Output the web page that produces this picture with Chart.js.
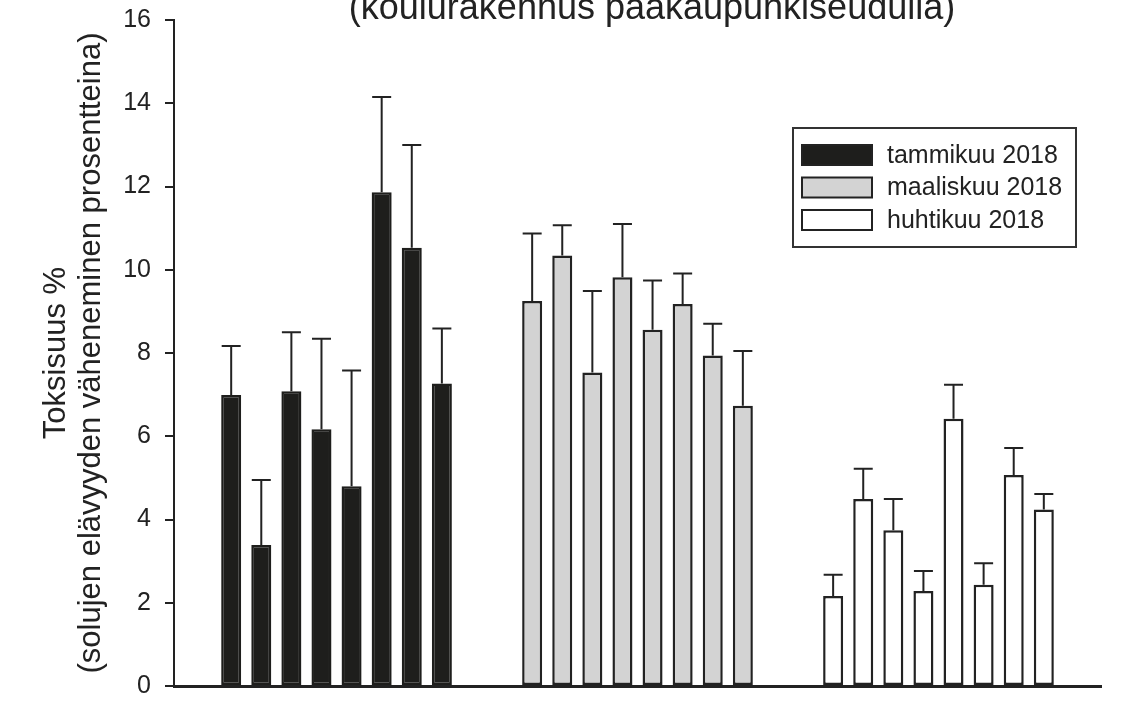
<!DOCTYPE html>
<html>
<head>
<meta charset="utf-8">
<script src="https://cdn.jsdelivr.net/npm/chart.js@4"></script>
<style>
    html, body { margin: 0; padding: 0; background: #fff; }
    #wrap { width: 1121px; height: 728px; }
</style>
</head>
<body>
<div id="wrap"><canvas id="toxChart"></canvas></div>
<script>
// values (mean and upward error)
const sampleNo = [1, 2, 3, 4, 5, 6, 7, 8];
const seriesNames = ['tammikuu 2018', 'maaliskuu 2018', 'huhtikuu 2018'];
const tammikuu = [6.99, 3.39, 7.08, 6.17, 4.80, 11.86, 10.53, 7.27];
const tammikuuErr = [1.18, 1.56, 1.42, 2.17, 2.78, 2.29, 2.47, 1.32];
const maaliskuu = [9.25, 10.34, 7.53, 9.82, 8.56, 9.18, 7.94, 6.73];
const maaliskuuErr = [1.62, 0.73, 1.96, 1.28, 1.18, 0.73, 0.76, 1.32];
const huhtikuu = [2.16, 4.49, 3.74, 2.28, 6.42, 2.43, 5.07, 4.24];
const huhtikuuErr = [0.51, 0.73, 0.75, 0.48, 0.82, 0.52, 0.65, 0.37];
const yTicks = [0, 2, 4, 6, 8, 10, 12, 14, 16];

const titleText = '(koulurakennus pääkaupunkiseudulla)';
const yTitle = ['Toksisuus %', '(solujen elävyyden väheneminen prosentteina)'];

const FONT = '"Liberation Sans", Arial, sans-serif';
const INK = '#222222';

// each month is a block of 8 bars, blocks 10 positions apart
function toPoints(values, block) {
    return values.map((v, i) => ({ x: block * 10 + sampleNo[i] - 1, y: v }));
}

const allErrors = [tammikuuErr, maaliskuuErr, huhtikuuErr];

const errorBars = {
    id: 'errorBars',
    afterDatasetsDraw(chart) {
        const ctx = chart.ctx;
        const xs = chart.scales.x, ys = chart.scales.y;
        ctx.save();
        ctx.strokeStyle = INK;
        ctx.lineWidth = 2;
        chart.data.datasets.forEach((ds, d) => {
            ds.data.forEach((p, i) => {
                const x = xs.getPixelForValue(p.x);
                const y0 = ys.getPixelForValue(p.y);
                const y1 = ys.getPixelForValue(p.y + allErrors[d][i]);
                ctx.beginPath();
                ctx.moveTo(x, y0);
                ctx.lineTo(x, y1);
                ctx.moveTo(x - 9.5, y1);
                ctx.lineTo(x + 9.5, y1);
                ctx.stroke();
            });
        });
        ctx.restore();
    }
};

const boxLegend = {
    id: 'boxLegend',
    afterDraw(chart) {
        const ctx = chart.ctx;
        ctx.save();
        ctx.strokeStyle = '#333';
        ctx.lineWidth = 2;
        ctx.strokeRect(793, 128, 283, 119);
        ctx.font = '25px ' + FONT;
        ctx.textBaseline = 'middle';
        ctx.textAlign = 'left';
        chart.data.datasets.forEach((ds, i) => {
            const cy = 155 + i * 32.5;
            ctx.fillStyle = ds.backgroundColor;
            ctx.fillRect(802, cy - 10, 70, 20);
            ctx.lineWidth = 2;
            ctx.strokeStyle = INK;
            ctx.strokeRect(802, cy - 10, 70, 20);
            ctx.fillStyle = INK;
            ctx.fillText(ds.label, 887, cy + 1);
        });
        ctx.restore();
    }
};

const topTitle = {
    id: 'topTitle',
    afterDraw(chart) {
        const ctx = chart.ctx;
        ctx.save();
        ctx.font = '36px ' + FONT;
        ctx.fillStyle = INK;
        ctx.textAlign = 'center';
        ctx.textBaseline = 'alphabetic';
        ctx.fillText(titleText, 652, 19);
        ctx.restore();
    }
};

const barStyle = { borderColor: INK, borderWidth: 2.5, borderSkipped: false, grouped: false,
                   barPercentage: 0.665, categoryPercentage: 1 };

new Chart(document.getElementById('toxChart'), {
    type: 'bar',
    data: {
        datasets: [
            Object.assign({ label: seriesNames[0], data: toPoints(tammikuu, 0), backgroundColor: '#1e1e1c' }, barStyle, { borderColor: '#1e1e1c' }),
            Object.assign({ label: seriesNames[1], data: toPoints(maaliskuu, 1), backgroundColor: '#d3d3d3' }, barStyle),
            Object.assign({ label: seriesNames[2], data: toPoints(huhtikuu, 2), backgroundColor: '#ffffff' }, barStyle)
        ]
    },
    options: {
        responsive: true,
        maintainAspectRatio: false,
        animation: false,
        layout: { padding: { top: 20, right: 20, bottom: 42, left: 0 } },
        plugins: {
            legend: { display: false },
            tooltip: { enabled: false }
        },
        scales: {
            x: {
                type: 'linear',
                min: -1.9,
                max: 28.9,
                offset: false,
                ticks: { display: false },
                grid: { display: false },
                border: { display: true, color: INK, width: 3 },
                afterFit: s => { s.height = 0; }
            },
            y: {
                min: 0,
                max: 16,
                afterBuildTicks: s => { s.ticks = yTicks.map(v => ({ value: v })); },
                afterFit: s => { s.width = 174; s.paddingTop = 0; s.paddingBottom = 0; },
                ticks: { color: INK, padding: 14, font: { family: FONT, size: 25 } },
                grid: { drawOnChartArea: false, drawTicks: true, tickLength: 9, color: INK, lineWidth: 2 },
                border: { display: true, color: INK, width: 2 },
                title: {
                    display: true,
                    text: yTitle,
                    color: INK,
                    padding: { top: 38, bottom: 0 },
                    font: { family: FONT, size: 31, lineHeight: 1.16 }
                }
            }
        }
    },
    plugins: [errorBars, boxLegend, topTitle]
});
</script>
</body>
</html>
